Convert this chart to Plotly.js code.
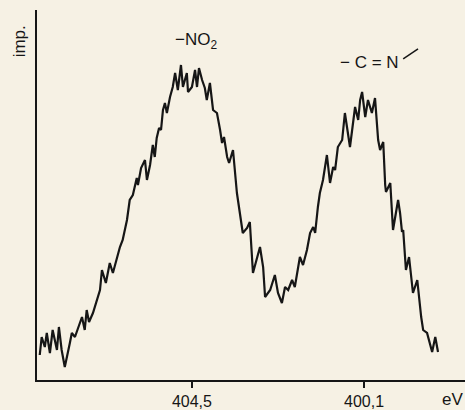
<!DOCTYPE html>
<html>
<head>
<meta charset="utf-8">
<script src="https://cdn.plot.ly/plotly-3.0.1.min.js"></script>
<style>
html,body{margin:0;padding:0;background:#f6f1e4;}
#chart{width:465px;height:410px;}
</style>
</head>
<body>
<div id="chart"></div>
<script>
// Binding energy (eV), decreasing left to right
const energy = [
 408.39,408.34,408.26,408.21,408.13,408.06,407.95,407.90,407.83,407.75,
 407.62,407.57,407.49,407.42,407.31,407.24,407.19,407.13,407.03,406.85,
 406.80,406.70,406.60,406.52,406.42,406.34,406.27,406.16,406.09,406.01,
 405.91,405.88,405.80,405.70,405.65,405.57,405.50,405.45,405.40,405.34,
 405.29,405.24,405.19,405.14,405.06,404.99,404.93,404.86,404.78,404.73,
 404.63,404.60,404.50,404.42,404.37,404.32,404.24,404.17,404.12,404.04,
 403.96,403.86,403.78,403.73,403.68,403.60,403.55,403.45,403.35,403.20,
 403.09,403.02,402.94,402.76,402.68,402.63,402.50,402.38,402.30,402.20,
 402.12,402.04,401.94,401.87,401.74,401.66,401.56,401.48,401.40,401.35,
 401.28,401.23,401.15,401.05,400.97,400.89,400.84,400.77,400.66,400.59,
 400.46,400.33,400.25,400.20,400.15,400.07,400.00,399.90,399.82,399.74,
 399.69,399.61,399.56,399.54,399.43,399.36,399.23,399.18,399.13,399.10,
 399.03,398.95,398.85,398.74,398.64,398.59,398.49,398.36,398.28,398.21
];
// Intensity (arbitrary units, "imp.")
const intensity = [
 25,43,33,47,27,50,30,53,30,13,
 37,47,43,50,63,50,70,58,67,90,
 110,97,117,107,123,133,140,160,180,185,
 202,195,212,220,200,215,235,223,242,252,
 250,270,277,267,283,293,307,290,315,293,
 307,288,293,310,293,312,300,292,280,297,
 270,267,250,237,243,223,217,230,187,147,
 152,158,107,133,113,83,90,105,87,77,
 93,90,100,93,123,115,130,147,153,147,
 173,187,200,225,197,213,210,233,240,267,
 233,273,260,280,288,263,280,267,282,240,
 230,238,195,188,197,150,180,167,148,150,
 110,123,87,100,63,50,47,28,43,28
];
const tickValues = [404.5, 400.1];
const tickLabels = ["404,5", "400,1"];
const xRange = [408.46, 397.52];
const yRange = [0, 370];

const ink = '#161616';
const fontFam = '"Liberation Sans", "DejaVu Sans", sans-serif';

const trace = {
  x: energy, y: intensity, type: 'scatter', mode: 'lines',
  line: {color: ink, width: 2.2},
  hoverinfo: 'skip'
};

const layout = {
  width: 465, height: 410,
  margin: {l: 37, r: 0, t: 10, b: 30},
  paper_bgcolor: '#f6f1e4',
  plot_bgcolor: '#f6f1e4',
  showlegend: false,
  font: {family: fontFam, color: ink, size: 16},
  xaxis: {
    range: xRange, showgrid: false, zeroline: false,
    showline: true, linecolor: ink, linewidth: 2,
    ticks: 'outside', ticklen: 6, tickwidth: 1.5, tickcolor: ink,
    tickvals: tickValues, ticktext: tickLabels,
    tickfont: {family: fontFam, size: 16, color: ink}
  },
  yaxis: {
    range: yRange, showgrid: false, zeroline: false,
    showline: true, linecolor: ink, linewidth: 2,
    ticks: '', showticklabels: false
  },
  annotations: [
    {xref: 'paper', yref: 'paper', x: -0.04, y: 0.915, text: 'imp.', textangle: -90,
     showarrow: false, font: {size: 17, color: ink}, xanchor: 'center', yanchor: 'middle'},
    {xref: 'paper', yref: 'paper', x: 0.97, y: -0.054, text: 'eV',
     showarrow: false, font: {size: 17, color: ink}, xanchor: 'center', yanchor: 'middle'},
    {xref: 'x', yref: 'paper', x: 404.4, y: 0.915, text: '−NO<sub>2</sub>',
     showarrow: false, font: {size: 17, color: ink}, xanchor: 'center', yanchor: 'middle'},
    {xref: 'x', yref: 'paper', x: 399.95, y: 0.858, text: '− C = N',
     showarrow: false, font: {size: 17, color: ink}, xanchor: 'center', yanchor: 'middle'}
  ],
  shapes: [
    {type: 'line', xref: 'x', yref: 'paper', x0: 399.1, x1: 398.72, y0: 0.868, y1: 0.895,
     line: {color: ink, width: 1.5}}
  ]
};

Plotly.newPlot('chart', [trace], layout, {displayModeBar: false, staticPlot: true});
</script>
</body>
</html>
